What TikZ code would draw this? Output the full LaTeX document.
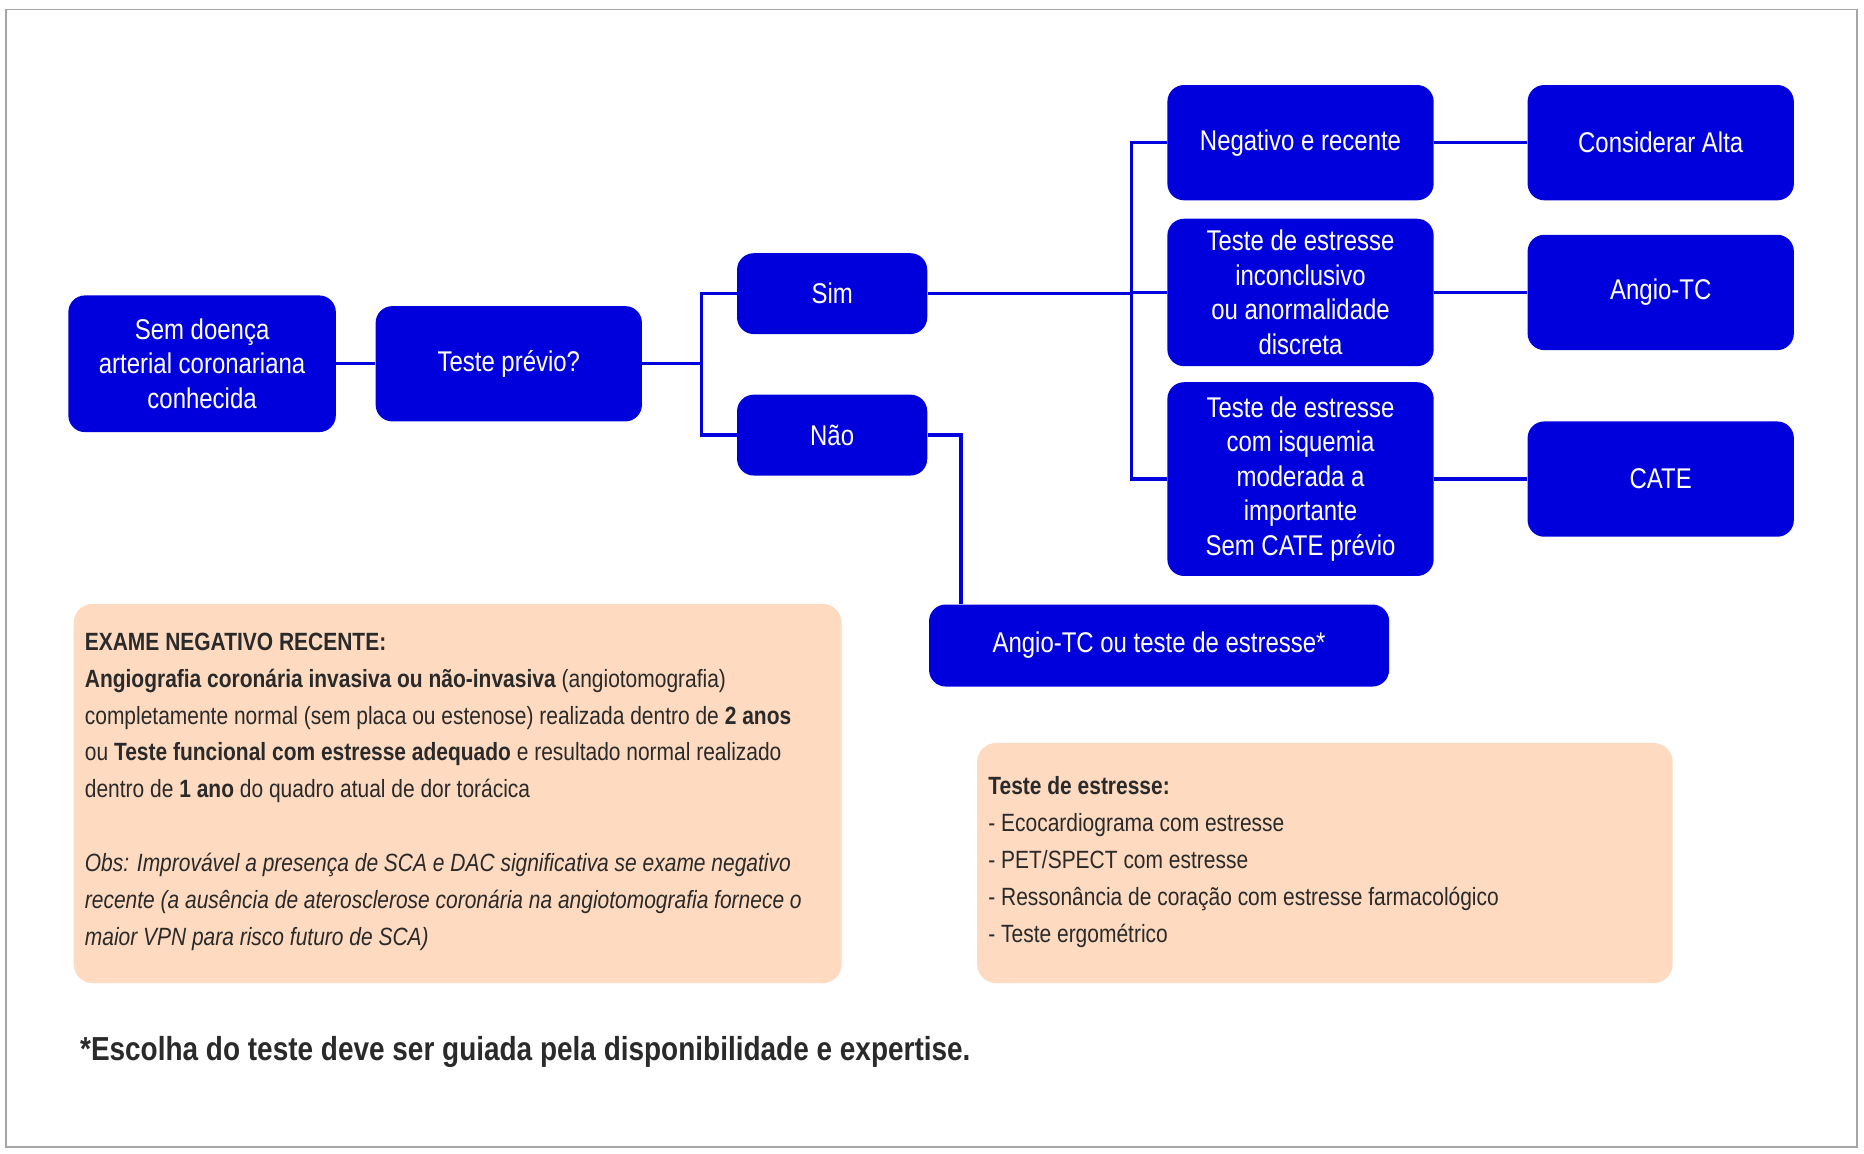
\documentclass[tikz,border=0pt]{standalone}
\usepackage{fontspec}
\setmainfont{Liberation Sans}[FakeStretch=0.84]
\usetikzlibrary{calc}
\definecolor{nb}{HTML}{0000DC}
\definecolor{pe}{HTML}{FDDAC0}
\definecolor{tx}{HTML}{2A2A2A}
\begin{document}
\begin{tikzpicture}[x=0.5pt,y=-0.5pt,
 box/.style={draw=none,fill=nb,rounded corners=7pt,text=white,align=center,font=\fontsize{12}{14.5}\selectfont,inner sep=2pt},
 ln/.style={draw=nb,line width=1.4pt},
 note/.style={fill=pe,rounded corners=8pt}]
\useasboundingbox (0,0) rectangle (1568,970);
\fill[white] (0,0) rectangle (1568,970);
\draw[gray!70,line width=0.6pt] (5,8) rectangle (1562,965);
\node[box,minimum width=112.5pt,minimum height=57.5pt] (a) at (170,306) {Sem doença\\arterial coronariana\\conhecida};
\node[box,minimum width=112pt,minimum height=48.5pt] (b) at (428,306) {Teste prévio?};
\node[box,minimum width=80pt,minimum height=34pt] (sim) at (700,247) {Sim};
\node[box,minimum width=80pt,minimum height=34pt] (nao) at (700,366) {Não};
\node[box,minimum width=112pt,minimum height=48.5pt] (neg) at (1094,120) {Negativo e recente};
\node[box,minimum width=112pt,minimum height=62pt] (inc) at (1094,246) {Teste de estresse\\inconclusivo\\ou anormalidade\\discreta};
\node[box,minimum width=112pt,minimum height=81.5pt] (isq) at (1094,403) {Teste de estresse\\com isquemia\\moderada a\\importante\\Sem CATE prévio};
\node[box,minimum width=112pt,minimum height=48.5pt] (alta) at (1397,120) {Considerar Alta};
\node[box,minimum width=112pt,minimum height=48.5pt] (atc) at (1397,246) {Angio-TC};
\node[box,minimum width=112pt,minimum height=48.5pt] (cate) at (1397,403) {CATE};
\node[box,minimum width=193.5pt,minimum height=34.5pt] (ou) at (975,543) {Angio-TC ou teste de estresse*};
\coordinate (j1) at (590,306);
\coordinate (j2) at (952,247);
\draw[ln] (a) -- (b);
\draw[ln] (b.east) -- (j1);
\draw[ln] (sim.west) -| (j1) |- (nao.west);
\draw[ln] (sim.east) -- (j2);
\draw[ln] (neg.west) -| (j2) |- (inc.west);
\draw[ln] (j2) |- (isq.west);
\draw[ln] (neg) -- (alta);
\draw[ln] (inc) -- (atc);
\draw[ln] (isq) -- (cate);
\draw[ln] (nao.east) -- ++(28,0) coordinate (j3) -- (j3 |- ou.north);
\fill[note] (62,508) rectangle (708,827);
\fill[note] (822,625) rectangle (1407,827);
\node[anchor=north west,align=left,text=tx,font=\fontsize{10.5}{15.5}\selectfont,inner sep=0pt] (t1) at (71,532) {\textbf{EXAME NEGATIVO RECENTE:}\\
\textbf{Angiografia coronária invasiva ou não-invasiva} (angiotomografia)\\
completamente normal (sem placa ou estenose) realizada dentro de \textbf{2 anos}\\
ou \textbf{Teste funcional com estresse adequado} e resultado normal realizado\\
dentro de \textbf{1 ano} do quadro atual de dor torácica\\[15.5pt]
\textit{Obs: Improvável a presença de SCA e DAC significativa se exame negativo}\\
\textit{recente (a ausência de aterosclerose coronária na angiotomografia fornece o}\\
\textit{maior VPN para risco futuro de SCA)}};
\node[anchor=north west,align=left,text=tx,font=\fontsize{10.5}{15.5}\selectfont,inner sep=0pt] (t2) at (831,653) {\textbf{Teste de estresse:}\\
- Ecocardiograma com estresse\\
- PET/SPECT com estresse\\
- Ressonância de coração com estresse farmacológico\\
- Teste ergométrico};
\node[anchor=west,text=tx,font=\fontsize{14}{16}\selectfont\bfseries,inner sep=0pt] (fn) at (67,885) {*Escolha do teste deve ser guiada pela disponibilidade e expertise.};
\end{tikzpicture}
\end{document}
